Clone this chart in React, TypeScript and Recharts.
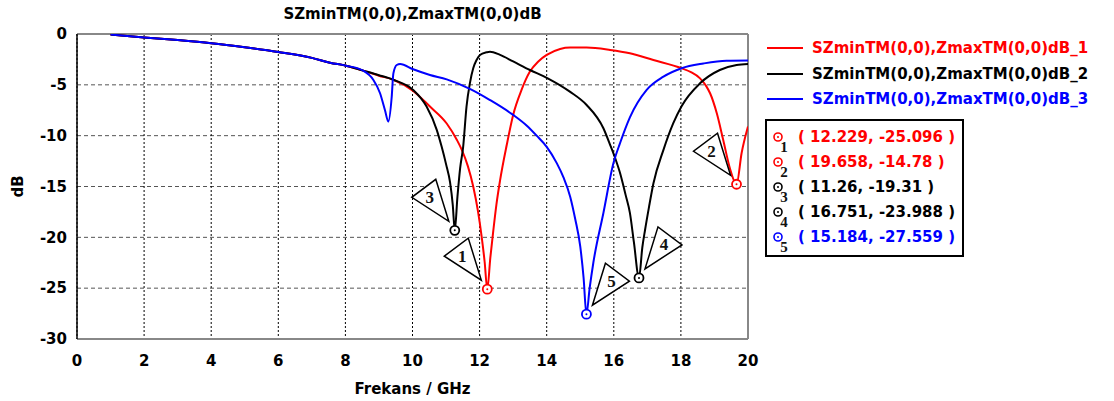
import React from 'react';
import {
  LineChart,
  Line,
  XAxis,
  YAxis,
  CartesianGrid,
  ReferenceDot,
  ReferenceLine
} from 'recharts';

// shared low-frequency part of all three curves
const commonFreq = [1, 2, 3, 4, 5, 6, 7, 7.54, 8.02, 8.53];
const commonDb = [-0.05, -0.35, -0.6, -0.9, -1.3, -1.77, -2.35, -2.82, -3.12, -3.6];

const redFreq = [...commonFreq, 9.0, 9.43, 10.02, 10.52, 11.02, 11.32, 11.47, 11.65, 11.81, 11.95, 12.06, 12.15, 12.229, 12.32, 12.41, 12.5, 12.61, 12.81, 13.0, 13.25, 13.5, 13.75, 14.0, 14.4, 14.7, 15.19, 15.89, 16.48, 17.18, 18.02, 18.3, 18.57, 18.75, 18.87, 19.07, 19.26, 19.46, 19.658, 19.81, 20];
const redDb = [...commonDb, -4.1, -4.5, -5.6, -7.14, -8.8, -10.4, -11.4, -13.0, -15.0, -17.4, -19.9, -22.4, -25.096, -22.0, -19.3, -16.8, -14.4, -10.9, -7.96, -5.5, -3.7, -2.7, -2.06, -1.47, -1.34, -1.34, -1.57, -1.9, -2.56, -3.37, -3.75, -4.36, -5.1, -5.83, -7.8, -10.4, -13.2, -14.78, -11.7, -9.1];

const blackFreq = [...commonFreq, 9.0, 9.43, 10.02, 10.42, 10.72, 10.87, 11.0, 11.12, 11.2, 11.26, 11.34, 11.42, 11.51, 11.61, 11.71, 11.81, 11.91, 12.01, 12.21, 12.31, 12.61, 13.0, 13.5, 14.03, 14.69, 15.19, 15.69, 15.89, 16.05, 16.18, 16.35, 16.48, 16.6, 16.751, 16.85, 16.93, 17.05, 17.18, 17.48, 17.77, 18.02, 18.57, 19.16, 19.66, 20];
const blackDb = [...commonDb, -4.05, -4.5, -5.5, -7.14, -9.4, -11.1, -12.8, -14.6, -16.8, -19.31, -16.0, -13.2, -11.1, -7.14, -4.85, -3.37, -2.56, -2.06, -1.8, -1.74, -2.06, -2.7, -3.54, -4.36, -5.67, -6.98, -9.27, -10.9, -12.3, -13.6, -15.8, -17.6, -20.5, -23.988, -21.0, -19.3, -17.0, -14.7, -11.4, -8.8, -7.1, -4.85, -3.54, -3.05, -2.95];

const blueFreq = [...commonFreq, 8.83, 9.03, 9.18, 9.28, 9.38, 9.43, 9.53, 9.63, 10.02, 10.52, 11.02, 11.71, 12.31, 13.0, 13.4, 13.7, 14.0, 14.3, 14.5, 14.7, 14.85, 15.0, 15.1, 15.184, 15.28, 15.39, 15.69, 15.99, 16.19, 16.48, 16.98, 17.48, 18.02, 18.67, 19.36, 20];
const blueDb = [...commonDb, -4.5, -5.8, -7.5, -8.62, -6.2, -3.87, -3.05, -2.95, -3.47, -4.03, -4.46, -5.4, -6.5, -7.96, -9.0, -10.0, -11.1, -12.7, -14.1, -16.0, -18.2, -20.9, -24.0, -27.559, -25.0, -22.5, -17.6, -12.7, -10.7, -8.2, -5.5, -4.2, -3.37, -2.9, -2.62, -2.6];

const seriesNames = ['SZminTM(0,0),ZmaxTM(0,0)dB_1', 'SZminTM(0,0),ZmaxTM(0,0)dB_2', 'SZminTM(0,0),ZmaxTM(0,0)dB_3'];
const seriesColors = ['#ff0000', '#000000', '#0000ff'];

const markerFreq = [12.229, 19.658, 11.26, 16.751, 15.184];
const markerDb = [-25.096, -14.78, -19.31, -23.988, -27.559];
const markerLabels = ['( 12.229, -25.096 )', '( 19.658, -14.78 )', '( 11.26, -19.31 )', '( 16.751, -23.988 )', '( 15.184, -27.559 )'];
const markerColors = ['#ff0000', '#ff0000', '#000000', '#000000', '#0000ff'];
const markerSide = [-1, -1, -1, 1, 1];

const xTicks = [0, 2, 4, 6, 8, 10, 12, 14, 16, 18, 20];
const yTicks = [0, -5, -10, -15, -20, -25, -30];

const FONT = "Tahoma, 'DejaVu Sans', Verdana, sans-serif";

const toPoints = (f: number[], v: number[]) => f.map((x, i) => ({ f: x, db: v[i] }));

const MarkerShape = ({ cx, cy, color, num, side }: any) => {
  const s = side;
  const tri = [
    [cx + s * 6, cy - 9],
    [cx + s * 19, cy - 51],
    [cx + s * 43, cy - 33]
  ].map(p => p.join(',')).join(' ');
  return (
    <g>
      <polygon points={tri} fill="#fff" stroke="#000" strokeWidth={1.5} />
      <text x={cx + s * 25} y={cy - 33} textAnchor="middle" dominantBaseline="central"
        fontFamily="'Liberation Serif', serif" fontWeight="bold" fontSize={17} fill="#111">{num}</text>
      <circle cx={cx} cy={cy} r={4.5} fill="#fff" stroke={color} strokeWidth={1.8} />
      <circle cx={cx} cy={cy} r={1} fill={color} />
    </g>
  );
};

const XLabel = ({ viewBox }: any) => (
  <text x={viewBox.x + viewBox.width / 2} y={viewBox.y + 50} textAnchor="middle" dominantBaseline="central"
    fontFamily={FONT} fontWeight="bold" fontSize={15} fill="#000">Frekans / GHz</text>
);

const YLabel = ({ viewBox }: any) => (
  <text x={18} y={viewBox.y + viewBox.height / 2} textAnchor="middle" dominantBaseline="central"
    transform={`rotate(-90 18 ${viewBox.y + viewBox.height / 2})`}
    fontFamily={FONT} fontWeight="bold" fontSize={15} fill="#000">dB</text>
);

export default function App() {
  const data = [toPoints(redFreq, redDb), toPoints(blackFreq, blackDb), toPoints(blueFreq, blueDb)];
  return (
    <div style={{ position: 'absolute', left: 0, top: 0, width: 1114, height: 401, background: '#fff', fontFamily: FONT }}>
      <div style={{ position: 'absolute', left: 77, width: 671, top: 5, textAlign: 'center', fontWeight: 'bold', fontSize: 15 }}>
        SZminTM(0,0),ZmaxTM(0,0)dB
      </div>
      <LineChart width={1114} height={401} margin={{ top: 34, right: 366, bottom: 0, left: 0 }}>
        <CartesianGrid vertical={false} stroke="#555" strokeDasharray="4 3" />
        <CartesianGrid horizontal={false} stroke="#000" strokeDasharray="2 2" />
        <XAxis dataKey="f" type="number" domain={[0, 20]} ticks={xTicks} allowDataOverflow height={62}
          axisLine={{ stroke: '#888', strokeWidth: 2 }} tickLine={false} tickSize={4} tickMargin={12}
          tick={{ fill: '#000', fontFamily: FONT, fontWeight: 'bold', fontSize: 15 }}
          label={<XLabel />} />
        <YAxis type="number" domain={[-30, 0]} ticks={yTicks} width={77} allowDataOverflow
          axisLine={{ stroke: '#000', strokeWidth: 1.5 }} tickLine={false} tickSize={4} tickMargin={6}
          tick={{ fill: '#000', fontFamily: FONT, fontWeight: 'bold', fontSize: 15 }}
          label={<YLabel />} />
        <ReferenceLine y={0} stroke="#888" strokeWidth={2} />
        <ReferenceLine x={20} stroke="#888" strokeWidth={2} />
        {data.map((d, i) => (
          <Line key={i} data={d} dataKey="db" type="monotone" stroke={seriesColors[i]} strokeWidth={2}
            dot={false} activeDot={false} isAnimationActive={false} />
        ))}
        {markerFreq.map((f, i) => (
          <ReferenceDot key={i} x={f} y={markerDb[i]} r={4} ifOverflow="visible"
            shape={(p: any) => <MarkerShape cx={p.cx} cy={p.cy} color={markerColors[i]} num={i + 1} side={markerSide[i]} />} />
        ))}
      </LineChart>
      {seriesNames.map((n, i) => (
        <div key={i} style={{ position: 'absolute', left: 767, top: 38 + i * 25.5, height: 20, display: 'flex', alignItems: 'center' }}>
          <div style={{ width: 36, height: 2, background: seriesColors[i], marginRight: 9 }} />
          <span style={{ color: seriesColors[i], fontWeight: 'bold', fontSize: 15, whiteSpace: 'nowrap' }}>{n}</span>
        </div>
      ))}
      <div style={{ position: 'absolute', left: 765, top: 119, width: 195, height: 134, border: '2px solid #000', background: '#fff' }}>
        {markerLabels.map((t, i) => (
          <div key={i} style={{ position: 'absolute', left: 0, top: 6 + i * 25, height: 22, width: 195 }}>
            <svg width={30} height={30} style={{ position: 'absolute', left: 2, top: 0, overflow: 'visible' }}>
              <circle cx={9} cy={10} r={4} fill="#fff" stroke={markerColors[i]} strokeWidth={1.6} />
              <circle cx={9} cy={10} r={1} fill={markerColors[i]} />
              <text x={15} y={20} textAnchor="middle" dominantBaseline="central" fontFamily="'Liberation Serif', serif" fontWeight="bold" fontSize={15} fill="#111">{i + 1}</text>
            </svg>
            <span style={{ position: 'absolute', left: 31, top: 0, lineHeight: '20px', color: markerColors[i], fontWeight: 'bold', fontSize: 15, whiteSpace: 'nowrap' }}>{t}</span>
          </div>
        ))}
      </div>
    </div>
  );
}
